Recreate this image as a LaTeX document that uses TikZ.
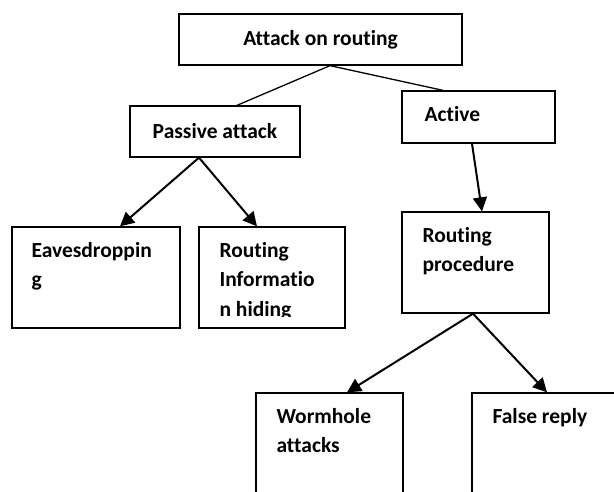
\documentclass[tikz,border=0pt]{standalone}
\usepackage{fontspec}
\setmainfont{Carlito}[Ligatures=NoCommon]
\usetikzlibrary{arrows.meta,positioning}

\begin{document}
\begin{tikzpicture}[x=1pt,y=-1pt,>={Triangle[length=14pt,width=14pt]},
    box/.style={draw,line width=1.3pt,inner sep=0pt},
    txt/.style={font=\bfseries\fontsize{21.5}{29.5}\selectfont,align=left,inner sep=0pt,anchor=north west},
    link/.style={line width=1.3pt},
    arr/.style={->,line width=2pt}]
    \useasboundingbox (0,0) rectangle (614,492);
    \clip (0,0) rectangle (614,492);

    % Define the boxes
    \node[box,minimum width=283pt,minimum height=51pt] (root) at (320.5,39.5) {};
    \node[box,minimum width=170pt,minimum height=51pt] (passive) at (215,131.5) {};
    \node[box,minimum width=153pt,minimum height=52pt] (active) at (478.5,117) {};
    \node[box,minimum width=168pt,minimum height=101pt] (eaves) at (96,277.5) {};
    \node[box,minimum width=146pt,minimum height=101pt] (rinfo) at (272,277.5) {};
    \node[box,minimum width=147pt,minimum height=101pt] (rproc) at (475.5,262.5) {};
    \node[box,minimum width=147pt,minimum height=130pt] (worm) at (329.5,458) {};
    \node[box,minimum width=168pt,minimum height=130pt] (false) at (556,458) {};

    % Texts in the boxes
    \node[txt,anchor=center] (roottxt) at (root) {Attack on routing};
    \node[txt,anchor=center] (passivetxt) at (passive) {Passive attack};
    \node[txt] (activetxt) at ([shift={(23,15.5)}]active.north west) {Active};
    \node[txt] (eavestxt) at ([shift={(20,15.5)}]eaves.north west) {Eavesdroppin\\g};
    \begin{scope}
        \clip ([yshift=12pt]rinfo.south west) rectangle (rinfo.north east);
        \node[txt] (rinfotxt) at ([shift={(21,15.5)}]rinfo.north west) {Routing\\Informatio\\n hiding};
    \end{scope}
    \node[txt] (rproctxt) at ([shift={(21,15.5)}]rproc.north west) {Routing\\procedure};
    \node[txt] (wormtxt) at ([shift={(21,15.5)}]worm.north west) {Wormhole\\attacks};
    \node[txt] (falsetxt) at ([shift={(21,15.5)}]false.north west) {False reply};

    % Lines from the root
    \draw[link] ([xshift=9.5pt]root.south) -- ([xshift=22pt]passive.north);
    \draw[link] ([xshift=9.5pt]root.south) -- ([xshift=-35.5pt]active.north);

    % Arrows
    \draw[arr] ([xshift=-16pt]passive.south) -- ([xshift=24pt]eaves.north);
    \draw[arr] ([xshift=-16pt]passive.south) -- ([xshift=-15pt]rinfo.north);
    \draw[arr] ([xshift=-6.5pt]active.south) -- ([xshift=6.5pt]rproc.north);
    \draw[arr] ([xshift=-2.5pt]rproc.south) -- ([xshift=17.5pt]worm.north);
    \draw[arr] ([xshift=-2.5pt]rproc.south) -- ([xshift=-9pt]false.north);
\end{tikzpicture}
\end{document}
